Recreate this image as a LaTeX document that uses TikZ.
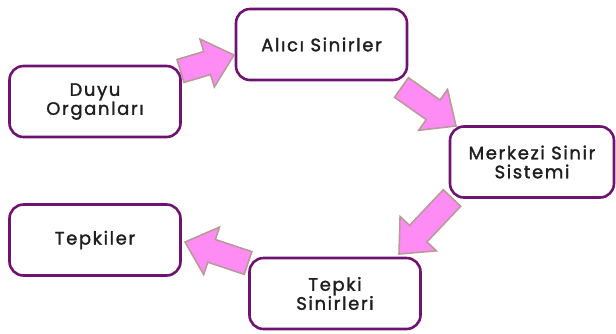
\documentclass[tikz,border=0pt]{standalone}
\usepackage{fontspec}
\setmainfont{Poppins}
\newfontfamily\labelfont[FakeBold=1.6,LetterSpace=9]{Poppins}
\usetikzlibrary{calc}
\definecolor{boxline}{HTML}{6E1470}
\definecolor{arrowfill}{HTML}{FF8CF4}
\definecolor{arrowline}{HTML}{B89A9A}
\def\bas{12pt}
\def\bah{25pt}
\def\bal{28pt}
\tikzset{
  stage/.style={draw=boxline, line width=2.6pt, rounded corners=14pt, fill=white,
    minimum width=171pt, minimum height=71pt, align=center,
    font=\labelfont\fontsize{18}{19}\selectfont, text=black!88},
  blockarrow/.style={draw=arrowline, fill=arrowfill, line width=1.6pt, line join=miter,
    to path={
      ($(\tikztostart)!\bas!90:(\tikztotarget)$) --
      ($(\tikztotarget)!\bal!(\tikztostart)!\bas!90:(\tikztotarget)$) --
      ($(\tikztotarget)!\bal!(\tikztostart)!\bah!90:(\tikztotarget)$) --
      (\tikztotarget) --
      ($(\tikztotarget)!\bal!(\tikztostart)!\bah!-90:(\tikztotarget)$) --
      ($(\tikztotarget)!\bal!(\tikztostart)!\bas!-90:(\tikztotarget)$) --
      ($(\tikztostart)!\bas!-90:(\tikztotarget)$) -- cycle}}
}
\begin{document}
\begin{tikzpicture}[x=1pt,y=-1pt]
\useasboundingbox (0,0) rectangle (616,333);
\node[stage] (duyu) at (95,101.5) {Duyu\\Organları};
\node[stage] (alici) at (321.5,44.5) {Alıcı Sinirler};
\node[stage, minimum width=164pt] (merkez) at (532,162) {Merkezi Sinir\\Sistemi};
\node[stage] (tepkiler) at (95,240) {Tepkiler};
\node[stage] (tsinir) at (335,293.5) {Tepki\\Sinirleri};
\coordinate (a1s) at (180.5,71);
\coordinate (a1t) at (234,55);
\coordinate (a2s) at (401.5,87.5);
\coordinate (a2t) at (456,126);
\coordinate (a3s) at (452,198);
\coordinate (a3t) at (399,254);
\coordinate (a4s) at (248,263);
\coordinate (a4t) at (185,242);
\draw[blockarrow] (a1s) to (a1t);
\draw[blockarrow] (a2s) to (a2t);
\draw[blockarrow] (a3s) to (a3t);
\draw[blockarrow] (a4s) to (a4t);
\end{tikzpicture}
\end{document}
